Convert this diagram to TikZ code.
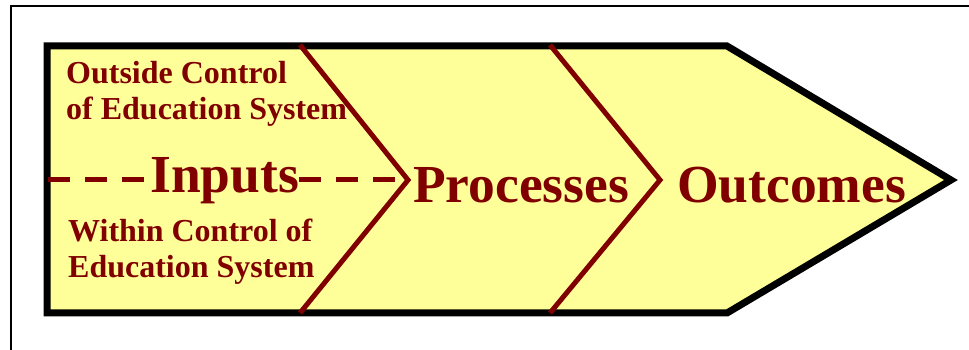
\documentclass[tikz,border=0pt]{standalone}
\usepackage{fontspec}
\setmainfont{Liberation Serif}
\definecolor{maroon}{HTML}{800000}
\definecolor{paleyellow}{HTML}{FFFF99}
\begin{document}
\begin{tikzpicture}[x=1pt,y=1pt,
  small/.style={anchor=base west,inner sep=0pt,text=maroon,font=\fontsize{32}{36}\selectfont\bfseries},
  big/.style={anchor=base west,inner sep=0pt,text=maroon,font=\fontsize{53.5}{60}\selectfont\bfseries},
  chev/.style={draw=maroon,line width=5pt,line join=miter},
  dashline/.style={draw=maroon,line width=5pt,dash pattern=on 22pt off 15pt}]
\useasboundingbox (0,0) rectangle (969,350);
% frame
\draw[line width=1.5pt] (11,0) -- (11,344) -- (969,344);
% arrow body
\draw[fill=paleyellow,line width=7pt,line join=miter]
  (47,304) -- (727,304) -- (951,170) -- (727,37) -- (47,37) -- cycle;
% chevrons
\coordinate (c1t) at (300,305);
\coordinate (v1) at (408,170);
\coordinate (c1b) at (300,37);
\coordinate (c2t) at (550,305);
\coordinate (v2) at (660,170);
\coordinate (c2b) at (550,37);
\draw[chev] (c1t) -- (v1) -- (c1b);
\draw[chev] (c2t) -- (v2) -- (c2b);
% texts
\node[small] (oc1) at (66,266) {Outside Control};
\node[small] (oc2) at (66,230) {of Education System};
\node[small] (wc1) at (68,108) {Within Control of};
\node[small] (wc2) at (68,72) {Education System};
\node[big] (inp) at (150,157) {Inputs};
\node[big] (proc) at (413,147) {Processes};
\node[big] (outc) at (677,147) {Outcomes};
% dashed line
\coordinate (dl) at (48,170);
\draw[dashline] (dl) -- (dl -| inp.west);
\draw[dashline] (v1 -| inp.east) -- (v1);
\end{tikzpicture}
\end{document}
